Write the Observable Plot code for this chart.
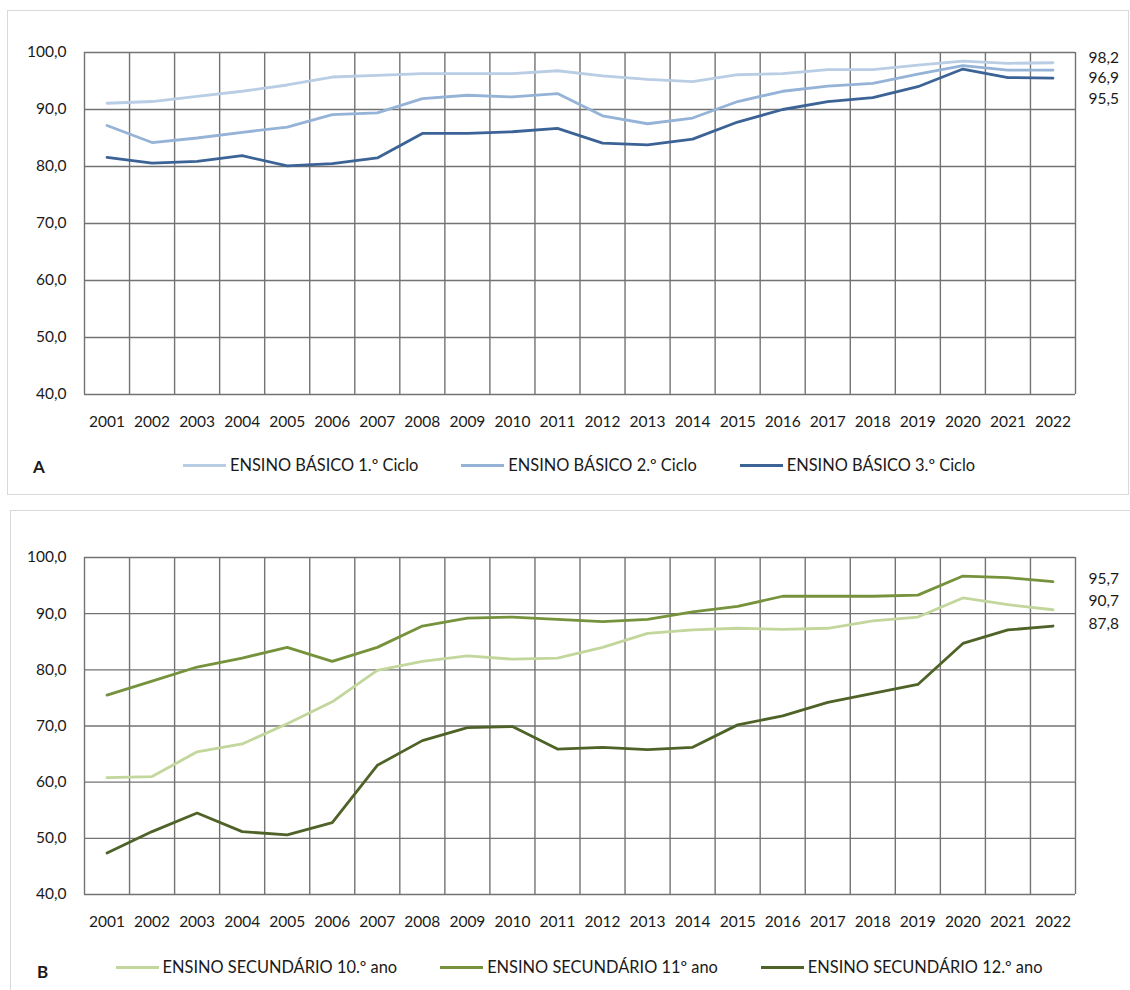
<!DOCTYPE html>
<html>
<head>
<meta charset="utf-8">
<script src="https://cdn.jsdelivr.net/npm/d3@7"></script>
<script src="https://cdn.jsdelivr.net/npm/@observablehq/plot@0.6"></script>
<style>
  html, body { margin: 0; padding: 0; background: #fff; }
  body { width: 1130px; height: 990px; position: relative; overflow: hidden; font-family: Lato, "Open Sans", sans-serif; color: #1a1a1a; }
  .box { position: absolute; border: 1px solid #d9d9d9; box-sizing: border-box; }
  .chart { position: absolute; left: 0; }
  .legend { position: absolute; left: 0; width: 1158px; display: flex; justify-content: center; gap: 43px; font-size: 16.4px; line-height: 18px; }
  .legend .item { display: flex; align-items: center; white-space: nowrap; }
  .legend .swatch { display: inline-block; width: 43px; height: 3px; margin-right: 4px; }
  .tag { position: absolute; font-weight: bold; font-size: 17px; }
</style>
</head>
<body>
<div class="box" style="left:7px; top:10px; width:1122px; height:485px;"></div>
<div class="box" style="left:10px; top:510px; width:1125px; height:495px;"></div>
<div id="chartA" class="chart" style="top:0px;"></div>
<div id="legendA" class="legend" style="top:456px;"></div>
<div class="tag" style="left:33px; top:456px;">A</div>
<div id="chartB" class="chart" style="top:500px;"></div>
<div id="legendB" class="legend" style="top:958px;"></div>
<div class="tag" style="left:37px; top:961px;">B</div>
<script>
const years = [2001, 2002, 2003, 2004, 2005, 2006, 2007, 2008, 2009, 2010, 2011, 2012, 2013, 2014, 2015, 2016, 2017, 2018, 2019, 2020, 2021, 2022];
const yTicks = [40, 50, 60, 70, 80, 90, 100];

const namesA = ["ENSINO BÁSICO 1.º Ciclo", "ENSINO BÁSICO 2.º Ciclo", "ENSINO BÁSICO 3.º Ciclo"];
const colorsA = ["#b9cde5", "#95b3d7", "#3c6396"];
const basico1 = [91.1, 91.4, 92.3, 93.2, 94.3, 95.7, 96.0, 96.3, 96.3, 96.3, 96.8, 95.9, 95.3, 94.9, 96.1, 96.3, 97.0, 97.0, 97.8, 98.5, 98.1, 98.2];
const basico2 = [87.2, 84.2, 85.0, 86.0, 86.9, 89.1, 89.4, 91.9, 92.5, 92.2, 92.8, 88.9, 87.5, 88.5, 91.4, 93.2, 94.1, 94.6, 96.2, 97.7, 96.9, 96.9];
const basico3 = [81.6, 80.6, 80.9, 81.9, 80.1, 80.5, 81.5, 85.8, 85.8, 86.1, 86.7, 84.1, 83.8, 84.8, 87.8, 90.0, 91.4, 92.1, 94.0, 97.1, 95.6, 95.5];

const namesB = ["ENSINO SECUNDÁRIO 10.º ano", "ENSINO SECUNDÁRIO 11º ano", "ENSINO SECUNDÁRIO 12.º ano"];
const colorsB = ["#c3d69b", "#76923c", "#4f6228"];
const sec10 = [60.8, 61.0, 65.4, 66.8, 70.4, 74.3, 79.9, 81.5, 82.5, 81.9, 82.1, 84.0, 86.5, 87.1, 87.4, 87.2, 87.4, 88.7, 89.4, 92.8, 91.6, 90.7];
const sec11 = [75.5, 78.0, 80.5, 82.1, 84.0, 81.5, 84.0, 87.8, 89.2, 89.4, 89.0, 88.6, 89.0, 90.3, 91.3, 93.1, 93.1, 93.1, 93.3, 96.7, 96.4, 95.7];
const sec12 = [47.4, 51.2, 54.5, 51.2, 50.6, 52.8, 63.0, 67.4, 69.7, 69.9, 65.9, 66.2, 65.8, 66.2, 70.2, 71.8, 74.2, 75.8, 77.4, 84.7, 87.1, 87.8];

const fmt = d => d.toFixed(1).replace(".", ",");
const gridColor = "#737373";

function panel(el, names, colors, seriesList, opts) {
  const rows = [];
  seriesList.forEach((s, i) => s.forEach((v, j) => rows.push({year: years[j], value: v, series: names[i]})));
  const bounds = years.map(y => y - 0.5).concat([years[years.length - 1] + 0.5]);
  const lastX = bounds[bounds.length - 1];
  // end labels: a column stacked downward from the top value
  const plotH = opts.height - opts.marginTop - opts.marginBottom;
  const ppu = plotH / (yTicks[yTicks.length - 1] - yTicks[0]);
  const ends = seriesList.map((s, i) => ({value: s[s.length - 1], i}))
    .sort((a, b) => b.value - a.value);
  const top = ends[0].value + opts.lift / ppu;
  ends.forEach((e, k) => { e.ly = top - k * opts.gap / ppu; });
  const marks = [
    Plot.ruleY(yTicks, {stroke: gridColor, strokeWidth: 1.4, strokeOpacity: 1}),
    Plot.ruleX(bounds, {stroke: gridColor, strokeWidth: 1.4, strokeOpacity: 1}),
  ];
  names.forEach((n, i) => {
    marks.push(Plot.line(rows.filter(r => r.series === n), {x: "year", y: "value", stroke: colors[i], strokeWidth: 2.8, curve: "linear"}));
  });
  marks.push(Plot.text(ends, {x: () => lastX, y: "ly", text: d => fmt(d.value), textAnchor: "start", dx: 13, fill: "#1a1a1a", fontSize: 15.5}));
  const chart = Plot.plot({
    width: 1130,
    height: opts.height,
    marginLeft: 84,
    marginRight: 55,
    marginTop: opts.marginTop,
    marginBottom: opts.marginBottom,
    style: {fontFamily: "Lato, 'Open Sans', sans-serif", fontSize: "15.5px", color: "#1a1a1a", background: "transparent", overflow: "visible"},
    x: {domain: [bounds[0], lastX], ticks: years, tickFormat: d => String(d), tickSize: 0, tickPadding: 21, label: null},
    y: {domain: [yTicks[0], yTicks[yTicks.length - 1]], ticks: yTicks, tickFormat: fmt, tickSize: 0, tickPadding: 18, label: null},
    marks
  });
  document.getElementById(el).appendChild(chart);
}

function legend(el, names, colors) {
  const box = document.getElementById(el);
  names.forEach((n, i) => {
    const item = document.createElement("div");
    item.className = "item";
    const sw = document.createElement("span");
    sw.className = "swatch";
    sw.style.background = colors[i];
    const tx = document.createElement("span");
    tx.textContent = n;
    item.appendChild(sw); item.appendChild(tx);
    box.appendChild(item);
  });
}

panel("chartA", namesA, colorsA, [basico1, basico2, basico3], {height: 440, marginTop: 52, marginBottom: 46, lift: 5, gap: 20.5});
panel("chartB", namesB, colorsB, [sec10, sec11, sec12], {height: 440, marginTop: 57, marginBottom: 46, lift: 3, gap: 22.5});
legend("legendA", namesA, colorsA);
legend("legendB", namesB, colorsB);
</script>
</body>
</html>
